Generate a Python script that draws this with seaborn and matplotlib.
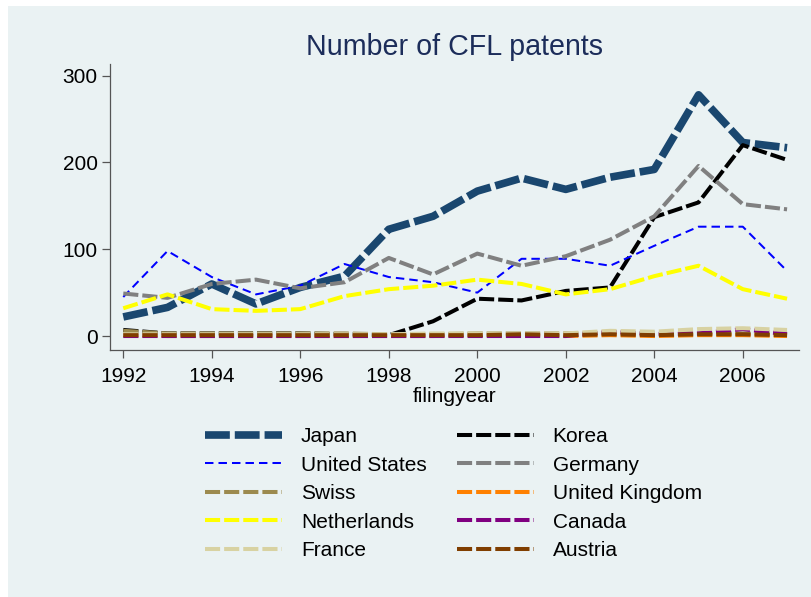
import matplotlib
matplotlib.use("Agg")
import matplotlib.pyplot as plt
import numpy as np
import pandas as pd
import seaborn as sns
from matplotlib.lines import Line2D
from matplotlib.patches import Rectangle

# ---------------- data ----------------
years = list(range(1992, 2008))
japan = [22, 33, 60, 37, 56, 69, 123, 138, 167, 182, 169, 183, 192, 278, 223, 217]
korea = [7, 3, 3, 3, 3, 2, 1, 17, 43, 41, 52, 56, 137, 154, 220, 203]
united_states = [45, 98, 68, 48, 58, 83, 68, 62, 50, 89, 89, 81, 104, 126, 126, 75]
germany = [49, 44, 60, 65, 55, 62, 90, 71, 95, 81, 92, 111, 138, 196, 152, 146]
swiss = [6, 3, 3, 3, 3, 3, 2, 2, 3, 3, 3, 3, 3, 3, 3, 3]
united_kingdom = [1, 0, 0, 0, 0, 0, 0, 0, 1, 1, 0, 1, 0, 1, 1, 0]
netherlands = [32, 48, 31, 29, 31, 46, 54, 58, 65, 60, 48, 54, 69, 81, 54, 43]
canada = [0, 0, 0, 0, 0, 0, 0, 0, 0, 0, 0, 5, 2, 3, 8, 2]
france = [2, 2, 2, 2, 2, 2, 2, 3, 3, 3, 3, 6, 5, 8, 9, 7]
austria = [1, 1, 1, 1, 1, 1, 1, 1, 1, 2, 1, 2, 1, 2, 2, 1]

x_ticks = [1992, 1994, 1996, 1998, 2000, 2002, 2004, 2006]
y_ticks = [0, 100, 200, 300]

plot_order = ["Japan", "Korea", "United States", "Germany", "Swiss",
              "United Kingdom", "Netherlands", "Canada", "France", "Austria"]
values = {"Japan": japan, "Korea": korea, "United States": united_states,
          "Germany": germany, "Swiss": swiss, "United Kingdom": united_kingdom,
          "Netherlands": netherlands, "Canada": canada, "France": france,
          "Austria": austria}
legend_order = ["Japan", "United States", "Swiss", "Netherlands", "France",
                "Korea", "Germany", "United Kingdom", "Canada", "Austria"]

rows = []
for name in plot_order:
    for yr, v in zip(years, values[name]):
        rows.append({"filingyear": yr, "count": v, "country": name})
df = pd.DataFrame(rows)

# ---------------- styles ----------------
colors = {"Japan": "#1A476F", "Korea": "#000000", "United States": "#0000FF",
          "Germany": "#808080", "Swiss": "#9C8A4E", "United Kingdom": "#FF8000",
          "Netherlands": "#FFFF00", "Canada": "#800080", "France": "#D8D2A2",
          "Austria": "#803E00"}
med_lw = 2.9
med_dash = (3.75, 1.0)
styles = {name: (med_lw, med_dash) for name in plot_order}
styles["Japan"] = (5.5, (3.25, 0.65))
styles["United States"] = (1.45, (4.2, 2.5))

BG = "#EAF2F3"
W, H = 811, 597
plt.rcParams["font.family"] = ["Liberation Sans", "DejaVu Sans"]

fig = plt.figure(figsize=(W / 100, H / 100), dpi=100, facecolor="white")
fig.patches.append(Rectangle((8 / W, 0), 1 - 8 / W, 1 - 6 / H,
                             transform=fig.transFigure, facecolor=BG,
                             edgecolor="none", zorder=-10))

ax = fig.add_axes([110 / W, 1 - 350 / H, (799 - 110) / W, (350 - 64) / H])
ax.set_facecolor(BG)
ax.patch.set_alpha(0)

for name in plot_order:
    lw, dash = styles[name]
    sub = df[df["country"] == name]
    sns.lineplot(data=sub, x="filingyear", y="count", ax=ax, color=colors[name],
                 linewidth=lw, linestyle=(0, dash), legend=False)

ax.set_xlim(1991.70, 2007.27)
ax.set_ylim(-16.1, 313.5)
ax.set_xticks(x_ticks)
ax.set_yticks(y_ticks)
ax.set_xticklabels([str(t) for t in x_ticks], fontsize=15)
ax.set_yticklabels([str(t) for t in y_ticks], fontsize=15)
ax.set_xlabel("filingyear", fontsize=15, labelpad=1)
ax.set_ylabel("")
for s in ["top", "right"]:
    ax.spines[s].set_visible(False)
for s in ["left", "bottom"]:
    ax.spines[s].set_color("#555555")
    ax.spines[s].set_linewidth(0.9)
ax.tick_params(axis="both", length=6, width=0.9, color="#555555", labelcolor="black")
ax.tick_params(axis="x", pad=6)
ax.tick_params(axis="y", pad=3)

fig.text(455 / W, 1 - 55 / H, "Number of CFL patents", ha="center",
         va="baseline", fontsize=20.6, color="#1C2D5A")

handles = []
for name in legend_order:
    lw, dash = styles[name]
    handles.append(Line2D([], [], color=colors[name], linewidth=lw,
                          linestyle=(0, dash)))
fig.legend(handles, legend_order, ncol=2, loc="upper left",
           bbox_to_anchor=(205 / W, 1 - 427 / H), frameon=False, fontsize=15,
           handlelength=3.7, handletextpad=0.9, columnspacing=1.45,
           labelspacing=0.46, borderpad=0, borderaxespad=0)

fig.savefig("out.png", dpi=100, facecolor="white")
